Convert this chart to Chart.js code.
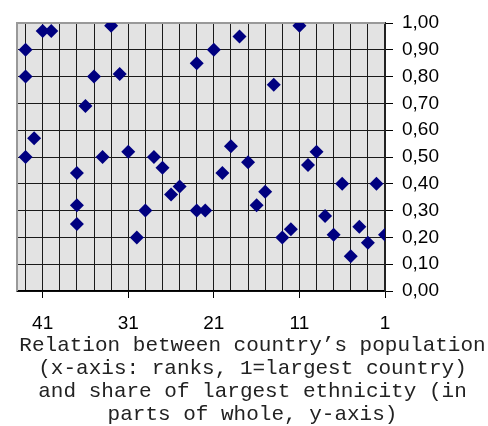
<!DOCTYPE html>
<html>
<head>
<meta charset="utf-8">
<script src="https://cdn.jsdelivr.net/npm/chart.js@4"></script>
<style>
  html, body { margin: 0; padding: 0; background: #fff; }
  #wrap { width: 488px; height: 426px; }
</style>
</head>
<body>
<div id="wrap"><canvas id="myChart" width="488" height="426"></canvas></div>
<script>
// population rank (1 = largest country) and share of largest ethnicity
let ranks = [1, 2, 3, 4, 5, 6, 7, 8, 9, 10, 11, 12, 13, 14, 15, 16, 17, 18, 19, 20, 21, 22,
  23, 23, 25, 26, 27, 28, 29, 30, 31, 32, 33, 34, 35, 36, 37, 37, 37, 40, 41, 42, 43, 43, 43]
let shares = [0.21, 0.40, 0.18, 0.24, 0.13, 0.40, 0.21, 0.28, 0.52, 0.47, 0.99, 0.23, 0.20, 0.77, 0.37, 0.32, 0.48, 0.95, 0.54, 0.44, 0.90, 0.30,
  0.85, 0.30, 0.39, 0.36, 0.46, 0.50, 0.30, 0.20, 0.52, 0.81, 0.99, 0.50, 0.80, 0.69, 0.44, 0.32, 0.25, 0.97, 0.97, 0.57, 0.90, 0.80, 0.50]
let xTickLabels = [41, 31, 21, 11, 1]
let titleLines = [
  'Relation between country\u2019s population',
  '(x-axis: ranks, 1=largest country)',
  'and share of largest ethnicity (in',
  'parts of whole, y-axis)'
]

let points = ranks.map((r, i) => ({ x: r, y: shares[i] }))

// plot area fill + grey frame like the old spreadsheet chart
const plotBg = {
  id: 'plotBg',
  beforeDraw(chart) {
    const { ctx, chartArea: a } = chart
    ctx.save()
    ctx.fillStyle = '#e3e3e3'
    ctx.fillRect(a.left, a.top, a.right - a.left, a.bottom - a.top)
    ctx.restore()
  },
  beforeDatasetsDraw(chart) {
    const { ctx, chartArea: a } = chart
    ctx.save()
    ctx.strokeStyle = '#999'
    ctx.lineWidth = 2
    ctx.beginPath()
    ctx.moveTo(a.left, a.bottom)
    ctx.lineTo(a.left, a.top)
    ctx.lineTo(a.right, a.top)
    ctx.stroke()
    ctx.restore()
  }
}

new Chart(document.querySelector('#myChart'), {
  type: 'scatter',
  data: {
    datasets: [{
      data: points,
      pointStyle: 'rectRot',
      pointRadius: 7,
      pointHoverRadius: 7,
      backgroundColor: '#000080',
      borderWidth: 0
    }]
  },
  options: {
    responsive: false,
    animation: false,
    events: [],
    layout: { padding: { left: 17, top: 23, right: 0, bottom: 0 } },
    plugins: {
      legend: { display: false },
      tooltip: { enabled: false },
      title: {
        display: true,
        position: 'bottom',
        text: titleLines,
        color: '#222',
        font: { family: '"Liberation Mono", "Courier New", monospace', size: 21, weight: 'normal', lineHeight: 1.1 },
        padding: 0
      }
    },
    scales: {
      x: {
        type: 'linear',
        reverse: true,
        min: 1,
        max: 44,
        afterBuildTicks(scale) {
          let t = []
          for (let v = 1; v <= 43; v += 2) t.push({ value: v })
          scale.ticks = t
        },
        afterFit(scale) { scale.height = 42.6 },
        ticks: {
          autoSkip: false,
          maxRotation: 0,
          padding: 14,
          color: '#000',
          font: { family: '"Liberation Sans", Arial, sans-serif', size: 19 },
          callback: v => xTickLabels.includes(v) ? String(v) : ''
        },
        grid: {
          color: '#1a1a1a',
          lineWidth: 1,
          tickLength: 7,
          tickColor: c => (c.tick && xTickLabels.includes(c.tick.value)) ? '#000' : 'rgba(0,0,0,0)'
        },
        border: { display: true, color: '#000', width: 1.5 }
      },
      y: {
        position: 'right',
        min: 0,
        max: 1,
        afterFit(scale) { scale.width = 103 },
        ticks: {
          stepSize: 0.1,
          padding: 9,
          color: '#000',
          font: { family: '"Liberation Sans", Arial, sans-serif', size: 19 },
          callback: v => v.toFixed(2).replace('.', ',')
        },
        grid: { color: '#1a1a1a', lineWidth: 1, tickLength: 8, tickColor: '#000' },
        border: { display: true, color: '#222', width: 2 }
      }
    }
  },
  plugins: [plotBg]
})
</script>
</body>
</html>
